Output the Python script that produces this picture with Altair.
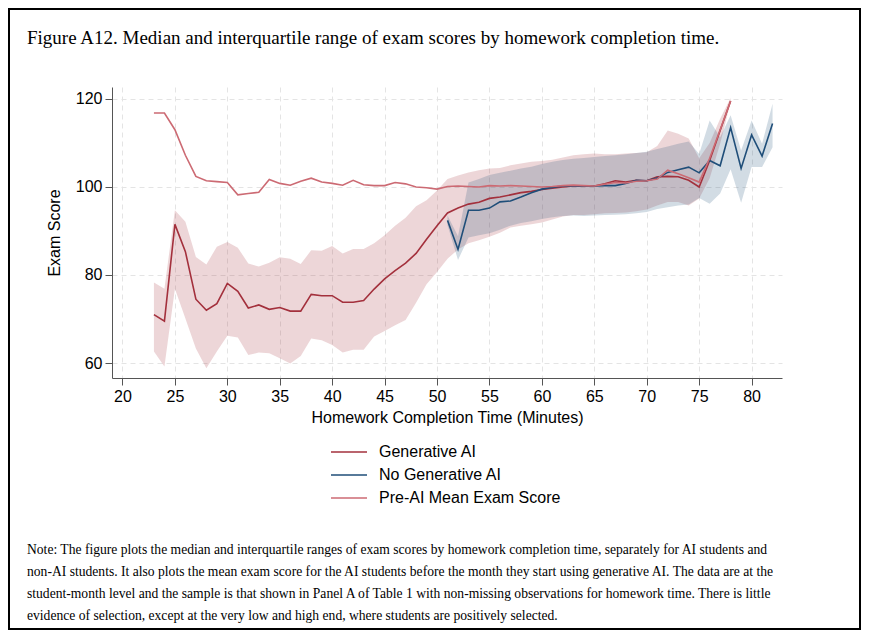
import altair as alt
import pandas as pd

# Datos (tiempo de tarea en minutos)
x_ai = list(range(23, 79))
x_no_ai = list(range(51, 83))

median_ai = [71.0, 69.5, 91.5, 85.3, 74.5, 72.0, 73.5, 78.1, 76.3, 72.5,
             73.2, 72.2, 72.6, 71.8, 71.8, 75.6, 75.3, 75.3, 73.8, 73.8,
             74.2, 76.8, 79.1, 81.0, 82.7, 84.9, 88.1, 91.2, 94.1, 95.2,
             96.1, 96.5, 97.4, 97.7, 98.2, 98.7, 99.0, 99.4, 99.7, 100.0,
             100.2, 100.2, 100.2, 100.7, 101.4, 101.1, 101.5, 101.4, 102.3, 102.4,
             102.3, 101.5, 100.0, 106.0, 112.8, 119.5]
q3_ai = [78.3, 76.9, 94.7, 92.1, 84.1, 82.4, 86.4, 87.5, 86.2, 82.6,
         81.9, 82.8, 84.0, 83.7, 82.5, 85.6, 85.5, 86.6, 84.9, 85.9,
         85.9, 87.2, 89.0, 91.2, 93.0, 95.6, 97.0, 99.2, 101.8, 102.6,
         103.3, 103.8, 104.2, 104.3, 104.9, 105.3, 105.7, 105.9, 106.2, 106.7,
         107.2, 107.4, 107.6, 107.4, 107.4, 107.6, 107.7, 107.9, 109.3, 112.8,
         112.1, 111.0, 106.5, 110.0, 115.5, 120.2]
q1_ai = [62.6, 59.2, 76.9, 70.1, 63.3, 58.8, 62.6, 66.2, 65.8, 61.8,
         62.4, 62.2, 61.1, 59.9, 61.6, 65.6, 65.2, 64.1, 62.4, 63.0,
         63.0, 66.0, 67.3, 68.6, 69.8, 73.7, 77.9, 80.7, 83.7, 85.8,
         87.2, 87.9, 88.7, 89.6, 90.8, 91.2, 91.5, 91.9, 92.6, 93.3,
         93.6, 93.6, 93.8, 94.0, 94.1, 94.2, 94.5, 94.9, 95.8, 96.6,
         96.6, 95.8, 97.4, 102.0, 109.8, 119.3]
pre_ai_mean = [116.8, 116.8, 113.0, 107.2, 102.4, 101.4, 101.2, 101.0, 98.2, 98.5,
               98.8, 101.7, 100.8, 100.4, 101.3, 102.0, 101.1, 100.8, 100.4, 101.5,
               100.5, 100.3, 100.3, 101.0, 100.7, 100.0, 99.8, 99.5, 100.1, 100.2,
               100.1, 100.0, 100.3, 100.2, 100.3, 100.2, 100.1, 100.0, 100.1, 100.3,
               100.4, 100.3, 100.2, 100.6, 101.0, 100.9, 101.3, 101.4, 101.8, 103.8,
               103.0, 102.1, 101.1, 106.5, 113.0, 119.5]

median_no_ai = [92.4, 85.8, 94.7, 94.7, 95.2, 96.6, 96.8, 97.7, 98.7, 99.5,
                99.9, 100.2, 100.2, 100.2, 100.2, 100.3, 100.3, 100.8, 101.5, 101.4,
                102.0, 103.3, 103.9, 104.5, 103.2, 106.0, 104.8, 113.5, 104.2, 111.8,
                107.0, 114.4]
q3_no_ai = [93.5, 88.8, 101.0, 101.8, 102.7, 103.2, 103.7, 104.2, 104.6, 105.2,
            105.7, 106.1, 106.4, 106.6, 106.8, 107.0, 107.2, 107.4, 107.7, 108.0,
            108.6, 109.2, 109.8, 110.3, 107.5, 115.1, 111.3, 116.3, 108.3, 115.1,
            109.8, 118.9]
q1_no_ai = [91.3, 83.4, 88.5, 89.0, 89.5, 90.3, 91.2, 91.8, 92.2, 92.7,
            93.1, 93.4, 93.5, 93.4, 93.5, 93.6, 93.7, 93.8, 94.0, 94.3,
            95.0, 95.4, 95.8, 96.0, 97.5, 96.2, 98.5, 104.0, 96.4, 104.5,
            104.5, 109.0]

series = ["Generative AI", "No Generative AI", "Pre-AI Mean Exam Score"]
colors = ["#a3303c", "#1f4e79", "#cc6a73"]

x_ticks = list(range(20, 81, 5))
y_ticks = [60, 80, 100, 120]

titulo = "Figure A12. Median and interquartile range of exam scores by homework completion time."
nota = [
    "Note: The figure plots the median and interquartile ranges of exam scores by homework completion time, separately for AI students and",
    "non-AI students. It also plots the mean exam score for the AI students before the month they start using generative AI. The data are at the",
    "student-month level and the sample is that shown in Panel A of Table 1 with non-missing observations for homework time. There is little",
    "evidence of selection, except at the very low and high end, where students are positively selected.",
]

# Tablas
lineas = pd.concat([
    pd.DataFrame({"x": x_ai, "y": median_ai, "serie": series[0]}),
    pd.DataFrame({"x": x_no_ai, "y": median_no_ai, "serie": series[1]}),
    pd.DataFrame({"x": x_ai, "y": pre_ai_mean, "serie": series[2]}),
])
banda_ai = pd.DataFrame({"x": x_ai, "lo": q1_ai, "hi": q3_ai})
banda_no_ai = pd.DataFrame({"x": x_no_ai, "lo": q1_no_ai, "hi": q3_no_ai})

# Geometría del lienzo
W, H = 670, 291
PL, PT, PR, PB = 104, 79, 79, 252
TOTAL_W, TOTAL_H = PL + W + PR, PT + H + PB

sx = alt.Scale(domain=[19, 82.9], nice=False, zero=False)
sy = alt.Scale(domain=[56.6, 122.7], nice=False, zero=False)

eje_x = alt.Axis(values=x_ticks, title="Homework Completion Time (Minutes)",
                 titlePadding=5, labelPadding=3)
eje_y = alt.Axis(values=y_ticks, title="Exam Score", titleX=-58, titleY=H / 2,
                 titleAngle=-90, titleAlign="center", titleBaseline="middle",
                 labelPadding=3)

area_ai = alt.Chart(banda_ai).mark_area(color=colors[0], opacity=0.2).encode(
    x=alt.X("x:Q", scale=sx, axis=eje_x),
    y=alt.Y("lo:Q", scale=sy, axis=eje_y),
    y2="hi:Q",
)

area_no_ai = alt.Chart(banda_no_ai).mark_area(color=colors[1], opacity=0.2).encode(
    x="x:Q",
    y="lo:Q",
    y2="hi:Q",
)

lineas_chart = alt.Chart(lineas).mark_line().encode(
    x="x:Q",
    y="y:Q",
    color=alt.Color("serie:N", scale=alt.Scale(domain=series, range=colors),
                    legend=alt.Legend(title=None, orient="none", legendX=227, legendY=355,
                                      symbolType="M-2,0H2", symbolSize=324,
                                      symbolStrokeWidth=1.6, labelOffset=20, labelLimit=0,
                                      labelFontSize=16, labelFont="Liberation Sans",
                                      labelColor="black", rowPadding=5, padding=0,
                                      symbolOffset=0)),
    strokeWidth=alt.StrokeWidth("serie:N", scale=alt.Scale(domain=series, range=[1.6, 1.6, 1.1]),
                                legend=None),
)

textos = pd.DataFrame({"titulo": [titulo], "n1": [nota[0]], "n2": [nota[1]],
                       "n3": [nota[2]], "n4": [nota[3]]})

titulo_chart = alt.Chart(textos).mark_text(
    align="left", baseline="alphabetic", font="Liberation Serif", fontSize=19, color="black"
).encode(x=alt.value(19 - PL), y=alt.value(36 - PT), text="titulo:N")

capas_nota = []
for i, campo in enumerate(["n1", "n2", "n3", "n4"]):
    capas_nota.append(alt.Chart(textos).mark_text(
        align="left", baseline="alphabetic", font="Liberation Serif", fontSize=13.6, color="black"
    ).encode(x=alt.value(19 - PL), y=alt.value(546 + 22 * i - PT), text=f"{campo}:N"))

marco = alt.Chart(textos).mark_rect(fill=None, stroke="black", strokeWidth=2).encode(
    x=alt.value(1 - PL), x2=alt.value(TOTAL_W - 1 - PL),
    y=alt.value(1 - PT), y2=alt.value(TOTAL_H - 1 - PT),
)

chart = alt.layer(area_ai, area_no_ai, lineas_chart, titulo_chart, *capas_nota, marco).properties(
    width=W,
    height=H,
    autosize=alt.AutoSizeParams(type="none"),
    padding={"left": PL, "top": PT, "right": PR, "bottom": PB},
    background="white",
).configure_view(
    stroke=None
).configure_axis(
    grid=True,
    gridColor="#e4e4e4",
    gridDash=[5, 4],
    gridWidth=1,
    domainColor="#555555",
    tickColor="#555555",
    tickSize=7,
    labelFont="Liberation Sans",
    labelFontSize=16,
    labelColor="black",
    titleFont="Liberation Sans",
    titleFontSize=16,
    titleFontWeight="normal",
    titleColor="black",
)

chart.save("out.html", embed_options={"renderer": "svg", "actions": False})
